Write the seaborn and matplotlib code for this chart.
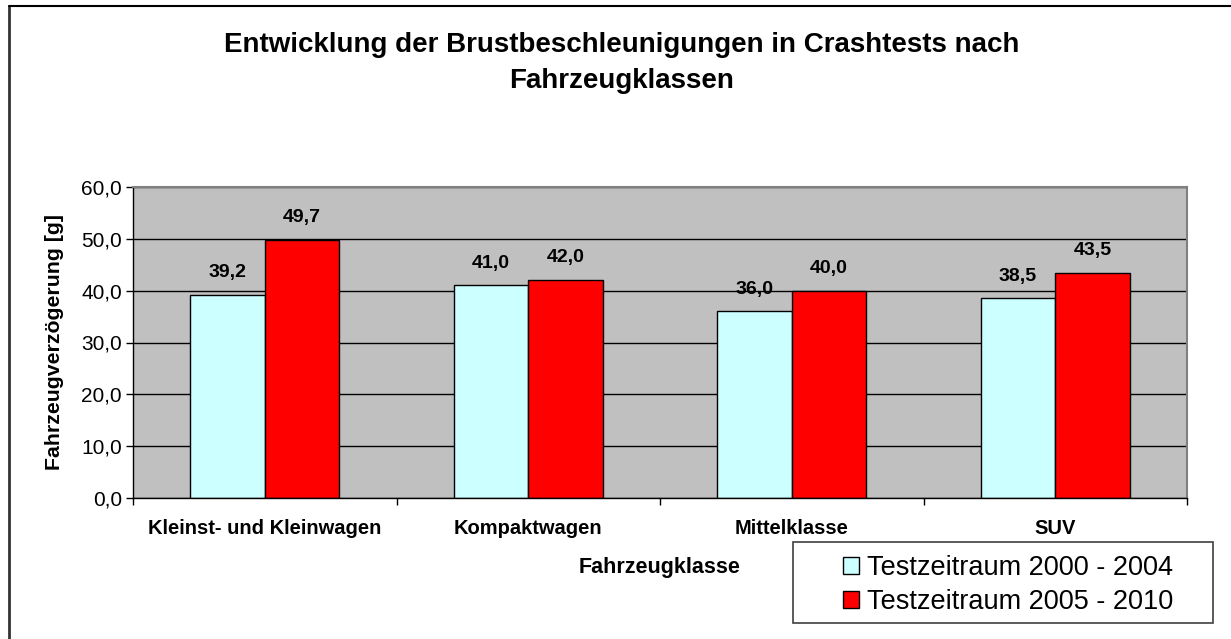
import pandas as pd
import numpy as np
import matplotlib
matplotlib.use("Agg")
import matplotlib.pyplot as plt
import seaborn as sns
from matplotlib.lines import Line2D
from matplotlib.patches import Rectangle
from matplotlib.ticker import FuncFormatter

# data
categories = ["Kleinst- und Kleinwagen", "Kompaktwagen", "Mittelklasse", "SUV"]
periods = ["Testzeitraum 2000 - 2004", "Testzeitraum 2005 - 2010"]
values_2000_2004 = [39.2, 41.0, 36.0, 38.5]
values_2005_2010 = [49.7, 42.0, 40.0, 43.5]
colors = ["#CCFFFF", "#FF0000"]

df = pd.DataFrame({
    "Fahrzeugklasse": categories * 2,
    "Zeitraum": [periods[0]] * 4 + [periods[1]] * 4,
    "Wert": values_2000_2004 + values_2005_2010,
})

sns.set_style("ticks")
plt.rcParams["font.family"] = ["Liberation Sans", "DejaVu Sans"]
plt.rcParams["text.color"] = "black"
plt.rcParams["axes.labelcolor"] = "black"
plt.rcParams["xtick.color"] = "black"
plt.rcParams["ytick.color"] = "black"

W, H = 1231, 639
fig = plt.figure(figsize=(W / 100, H / 100), dpi=100)
fig.patch.set_facecolor("white")

# plot area in pixels: x 133..1187, y 187..498
ax = fig.add_axes([133 / W, 1 - 498 / H, (1187 - 133) / W, (498 - 187) / H])
ax.set_facecolor("#C0C0C0")

sns.barplot(data=df, x="Fahrzeugklasse", y="Wert", hue="Zeitraum",
            hue_order=periods, palette=colors, width=0.566,
            edgecolor="black", linewidth=1, saturation=1, ax=ax, legend=False)

ax.set_ylim(0, 60)
ax.set_xlim(-0.5, 3.5)
ax.set_yticks(np.arange(0, 61, 10))
ax.yaxis.set_major_formatter(FuncFormatter(lambda v, p: f"{v:.1f}".replace(".", ",")))
ax.yaxis.grid(True, color="black", lw=1)
ax.set_axisbelow(True)
ax.tick_params(axis="y", labelsize=15, length=5, width=1, color="black", pad=3)

ax.set_xticks(np.arange(-0.5, 4, 1))
ax.set_xticklabels([])
ax.set_xticks(range(4), labels=categories, minor=True)
ax.tick_params(axis="x", which="major", length=5, width=1, color="black")
ax.tick_params(axis="x", which="minor", length=0, pad=15, labelsize=14.5)
for lbl in ax.get_xticklabels(minor=True):
    lbl.set_fontweight("bold")

for side in ["left", "bottom"]:
    ax.spines[side].set_color("black")
    ax.spines[side].set_linewidth(1)
for side in ["top", "right"]:
    ax.spines[side].set_visible(True)
    ax.spines[side].set_color("#808080")
    ax.spines[side].set_linewidth(1.5)

for cont in ax.containers:
    labs = [f"{b.get_height():.1f}".replace(".", ",") for b in cont]
    ax.bar_label(cont, labels=labs, padding=10, fontsize=14, fontweight="bold")

ax.set_xlabel("Fahrzeugklasse", fontsize=15.5, fontweight="bold")
ax.xaxis.set_label_coords(0.5, -(567 - 498) / (498 - 187))
ax.xaxis.label.set_va("center")
ax.set_ylabel("Fahrzeugverzögerung [g]", fontsize=15.3, fontweight="bold")
ax.yaxis.set_label_coords(-(133 - 55) / (1187 - 133), 0.5)
ax.yaxis.label.set_va("center")

fig.text(622 / W, 1 - 63 / H,
         "Entwicklung der Brustbeschleunigungen in Crashtests nach\nFahrzeugklassen",
         ha="center", va="center", fontsize=20, fontweight="bold", linespacing=1.55)

# legend box
fig.patches.append(Rectangle((793 / W, 1 - 623 / H), (1213 - 793) / W, 81 / H,
                             transform=fig.transFigure, facecolor="white",
                             edgecolor="#404040", lw=1.2, zorder=1))
handles = [Rectangle((0, 0), 1, 1, facecolor=c, edgecolor="black", lw=1) for c in colors]
fig.legend(handles, periods, loc="center left", bbox_to_anchor=(843 / W, 1 - 585 / H),
           frameon=False, fontsize=19.5, handlelength=0.6, handleheight=0.6,
           handletextpad=0.3, labelspacing=0.3, borderpad=0, borderaxespad=0)

# outer chart frame (left and top edges)
fig.add_artist(Line2D([9 / W, 9 / W], [0, 1 - 6 / H], transform=fig.transFigure,
                      color="#333333", lw=2))
fig.add_artist(Line2D([9 / W, 1], [1 - 6 / H, 1 - 6 / H], transform=fig.transFigure,
                      color="black", lw=1.5))

fig.savefig("out.png", dpi=100)
